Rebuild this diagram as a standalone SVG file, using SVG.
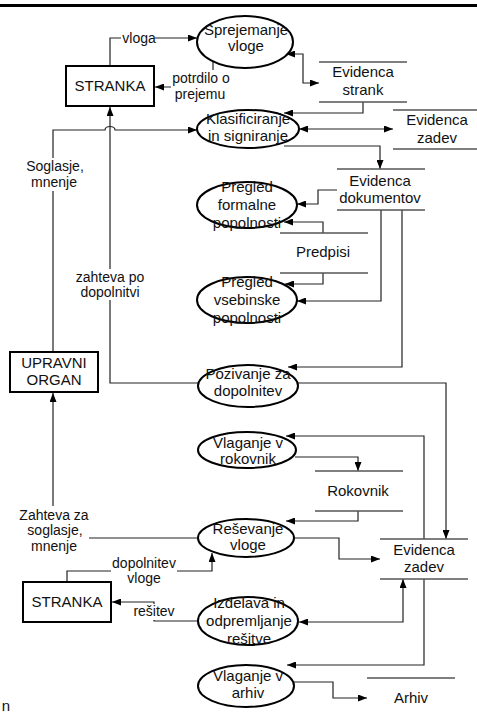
<svg xmlns="http://www.w3.org/2000/svg" width="477" height="713" viewBox="0 0 477 713">
<defs>
<marker id="ah" markerWidth="9" markerHeight="7" refX="9" refY="3.5" orient="auto-start-reverse" markerUnits="userSpaceOnUse"><path d="M0,0 L9,3.5 L0,7 z" fill="#000"/></marker>
<style>
text{font-family:"Liberation Sans",Arial,sans-serif;font-size:15px;fill:#111;text-anchor:middle}
.lbl{font-size:14px}
.proc{fill:#fff;stroke:#000;stroke-width:2}
.ext{fill:#fff;stroke:#000;stroke-width:2}
.store{stroke:#555;stroke-width:1.3;fill:none}
.c{fill:none;stroke:#222;stroke-width:1.2}
.e{marker-end:url(#ah)}
.b{marker-start:url(#ah);marker-end:url(#ah)}
.bg{fill:#fff}
</style>
</defs>
<rect width="477" height="713" fill="#fff"/>
<line x1="0" y1="5.5" x2="477" y2="5.5" stroke="#000" stroke-width="3"/>
<g id="connectors">
<path class="c e" d="M110,66 V38 H197"/>
<path class="c e" d="M213,61 V87 H155"/>
<path class="c b" d="M286,54 H303 V83 H319"/>
<path class="c e" d="M363,102 V113 H284"/>
<path class="c b" d="M299,129 H393"/>
<path class="c e" d="M284,146 H380 V169"/>
<path class="c e" d="M53,352 V130 H105 a5,3.5 0 0 1 10,0 H197"/>
<path class="c e" d="M198,383 H110 V107"/>
<path class="c e" d="M337,190 H318 V204 H297"/>
<path class="c e" d="M323,233 V222 H284"/>
<path class="c e" d="M323,273 V284 H285"/>
<path class="c e" d="M381,210 V301 H297"/>
<path class="c e" d="M402,210 V367 H288"/>
<path class="c e" d="M298,383 H446 V539"/>
<path class="c e" d="M424,539 V436 H286"/>
<path class="c e" d="M295,457 H358 V471"/>
<path class="c e" d="M358,511 V521 H286"/>
<path class="c e" d="M197,538 H53 V393"/>
<path class="c e" d="M294,538 H339 V559 H380"/>
<path class="c e" d="M67,582 V571 H212 V553"/>
<path class="c e" d="M198,621 H154 V602 H112"/>
<path class="c b" d="M299,622 H403 V579"/>
<path class="c e" d="M424,579 V665 H287"/>
<path class="c e" d="M294,682 H333 V698 H367"/>
<rect class="bg" x="121" y="31" width="34" height="14"/>
<text class="lbl" x="139" y="43">vloga</text>
<rect class="bg" x="171" y="70" width="60" height="33"/>
<text class="lbl" x="201" y="83">potrdilo o</text>
<text class="lbl" x="200" y="99">prejemu</text>
<rect class="bg" x="24" y="158" width="62" height="33"/>
<text class="lbl" x="55" y="171">Soglasje,</text>
<text class="lbl" x="54" y="187">mnenje</text>
<rect class="bg" x="74" y="269" width="72" height="31"/>
<text class="lbl" x="110" y="282">zahteva po</text>
<text class="lbl" x="110" y="297">dopolnitvi</text>
<rect class="bg" x="18" y="506" width="71" height="49"/>
<text class="lbl" x="54" y="520">Zahteva za</text>
<text class="lbl" x="55" y="535">soglasje,</text>
<text class="lbl" x="54" y="551">mnenje</text>
<rect class="bg" x="111" y="555" width="66" height="31"/>
<text class="lbl" x="144" y="568">dopolnitev</text>
<text class="lbl" x="144" y="583">vloge</text>
<rect class="bg" x="131" y="604" width="46" height="16"/>
<text class="lbl" x="154" y="616">rešitev</text>
</g>
<g id="stranka1"><rect class="ext" x="66" y="66" width="88" height="40"/><text x="110" y="91">STRANKA</text></g>
<g id="upravni"><rect class="ext" x="10" y="352" width="88" height="40"/><text x="54" y="368">UPRAVNI</text><text x="54" y="385">ORGAN</text></g>
<g id="stranka2"><rect class="ext" x="23" y="582" width="88" height="40"/><text x="67" y="607">STRANKA</text></g>
<g id="sprejemanje"><ellipse class="proc" cx="245" cy="42" rx="48" ry="26"/><text x="246" y="35">Sprejemanje</text><text x="246" y="51">vloge</text></g>
<g id="klasificiranje"><ellipse class="proc" cx="248" cy="129" rx="51" ry="19"/><text x="248" y="124">Klasificiranje</text><text x="248" y="141">in signiranje</text></g>
<g id="formalne"><ellipse class="proc" cx="247" cy="205" rx="50" ry="23"/><text x="247" y="192">Pregled</text><text x="247" y="210">formalne</text><text x="247" y="228">popolnosti</text></g>
<g id="vsebinske"><ellipse class="proc" cx="247" cy="300" rx="50" ry="23"/><text x="247" y="287">Pregled</text><text x="247" y="305">vsebinske</text><text x="247" y="323">popolnosti</text></g>
<g id="pozivanje"><ellipse class="proc" cx="248" cy="386" rx="50" ry="21"/><text x="248" y="379">Pozivanje za</text><text x="248" y="396">dopolnitev</text></g>
<g id="rokovnik-proc"><ellipse class="proc" cx="247" cy="450" rx="49" ry="18"/><text x="248" y="448">Vlaganje v</text><text x="248" y="464">rokovnik</text></g>
<g id="resevanje"><ellipse class="proc" cx="246" cy="538" rx="48" ry="19"/><text x="248" y="534">Reševanje</text><text x="248" y="550">vloge</text></g>
<g id="izdelava"><ellipse class="proc" cx="248" cy="621" rx="50" ry="24"/><text x="249" y="608">Izdelava in</text><text x="249" y="626">odpremljanje</text><text x="249" y="644">rešitve</text></g>
<g id="arhiv-proc"><ellipse class="proc" cx="246" cy="686" rx="48" ry="21"/><text x="248" y="681">Vlaganje v</text><text x="248" y="698">arhiv</text></g>
<g id="ev-strank"><line class="store" x1="319" y1="62" x2="407" y2="62"/><line class="store" x1="319" y1="102" x2="407" y2="102"/><text x="363" y="77">Evidenca</text><text x="363" y="95">strank</text></g>
<g id="ev-zadev1"><line class="store" x1="393" y1="110" x2="477" y2="110"/><line class="store" x1="393" y1="149" x2="477" y2="149"/><text x="437" y="125">Evidenca</text><text x="437" y="143">zadev</text></g>
<g id="ev-dokumentov"><line class="store" x1="337" y1="169" x2="425" y2="169"/><line class="store" x1="337" y1="210" x2="425" y2="210"/><text x="380" y="186">Evidenca</text><text x="380" y="203">dokumentov</text></g>
<g id="predpisi"><line class="store" x1="280" y1="233" x2="368" y2="233"/><line class="store" x1="280" y1="273" x2="368" y2="273"/><text x="323" y="257">Predpisi</text></g>
<g id="rokovnik"><line class="store" x1="315" y1="471" x2="403" y2="471"/><line class="store" x1="315" y1="511" x2="403" y2="511"/><text x="358" y="496">Rokovnik</text></g>
<g id="ev-zadev2"><line class="store" x1="380" y1="539" x2="468" y2="539"/><line class="store" x1="380" y1="579" x2="468" y2="579"/><text x="424" y="555">Evidenca</text><text x="424" y="572">zadev</text></g>
<g id="arhiv"><line class="store" x1="367" y1="678" x2="455" y2="678"/><text x="411" y="703">Arhiv</text></g>
<text x="6" y="711">n</text>
</svg>
